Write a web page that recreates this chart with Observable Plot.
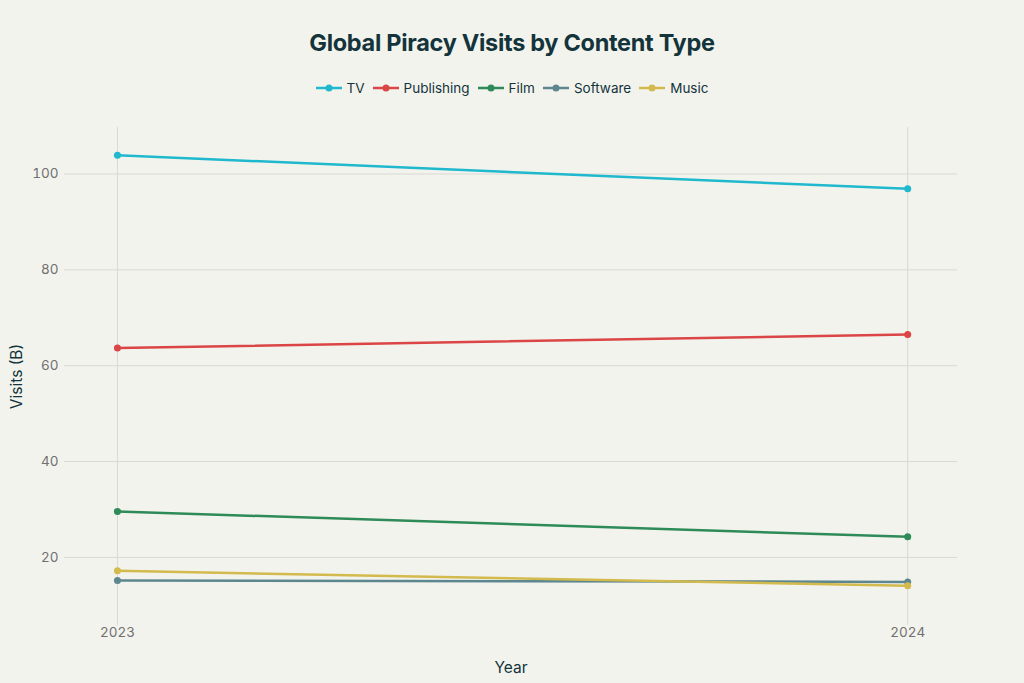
<!DOCTYPE html>
<html>
<head>
<meta charset="utf-8">
<script src="https://cdn.jsdelivr.net/npm/d3@7"></script>
<script src="https://cdn.jsdelivr.net/npm/@observablehq/plot@0.6"></script>
<style>
  html, body { margin: 0; padding: 0; background: #f3f3ee; }
  body { width: 1024px; height: 683px; overflow: hidden; font-family: Inter, "Noto Sans", sans-serif; }
  #title { position: absolute; top: 28px; left: 0; width: 1024px; text-align: center; font-size: 23.5px; font-weight: 700; color: #13343b; letter-spacing: -0.3px; }
  #legend { position: absolute; top: 80px; left: 0; width: 1024px; display: flex; justify-content: center; gap: 8px; font-size: 13.5px; color: #13343b; }
  #legend .item { display: flex; align-items: center; gap: 5px; }
  #chart { position: absolute; top: 110px; left: 0; }
</style>
</head>
<body>
<div id="title">Global Piracy Visits by Content Type</div>
<div id="legend"></div>
<div id="chart"></div>
<script>
const years = [2023, 2024];
const categories = ["TV", "Publishing", "Film", "Software", "Music"];
const colors = ["#1FB8CD", "#DB4545", "#2E8B57", "#5D878F", "#D2BA4C"];
const tvValues = [103.9, 96.9];
const publishingValues = [63.7, 66.5];
const filmValues = [29.6, 24.3];
const softwareValues = [15.2, 14.9];
const musicValues = [17.2, 14.1];
const yTicks = [20, 40, 60, 80, 100];

const series = [tvValues, publishingValues, filmValues, softwareValues, musicValues];
const data = [];
categories.forEach((c, i) => years.forEach((y, j) => data.push({category: c, year: y, value: series[i][j]})));

// Legend
const legend = document.getElementById("legend");
categories.forEach((c, i) => {
  const item = document.createElement("div");
  item.className = "item";
  item.innerHTML = `<svg width="26" height="10"><line x1="0" x2="26" y1="5" y2="5" stroke="${colors[i]}" stroke-width="2.5"/><circle cx="13" cy="5" r="3.5" fill="${colors[i]}"/></svg><span>${c}</span>`;
  legend.appendChild(item);
});

const chart = Plot.plot({
  width: 1024,
  height: 573,
  marginTop: 17,
  marginBottom: 58,
  marginLeft: 64,
  marginRight: 67,
  style: { background: "transparent", fontFamily: "Inter, 'Noto Sans', sans-serif", fontSize: "13px", color: "#707070" },
  x: { domain: [2022.933, 2024.063] },
  y: { domain: [5.8, 109.7] },
  color: { domain: categories, range: colors },
  marks: [
    Plot.gridY(yTicks, { stroke: "#d9d9d4", strokeOpacity: 1, strokeWidth: 1 }),
    Plot.gridX(years, { stroke: "#d9d9d4", strokeOpacity: 1, strokeWidth: 1 }),
    Plot.axisX(years, { tickSize: 0, tickPadding: 2, tickFormat: d => String(d), fontSize: 13.5, label: "Year", labelAnchor: "center", labelOffset: 47, labelArrow: "none" }),
    Plot.axisY(yTicks, { tickSize: 0, tickPadding: 6, fontSize: 13.5, label: "Visits (B)", labelAnchor: "center", labelOffset: 54, labelArrow: "none" }),
    Plot.line(data, { x: "year", y: "value", z: "category", stroke: "category", strokeWidth: 2.5 }),
    Plot.dot(data, { x: "year", y: "value", fill: "category", r: 3.5 })
  ]
});
document.getElementById("chart").appendChild(chart);
chart.querySelectorAll("[aria-label='x-axis label'] text, [aria-label='y-axis label'] text").forEach(t => { t.setAttribute("fill", "#13343b"); t.style.fontSize = "15.5px"; });
</script>
</body>
</html>
